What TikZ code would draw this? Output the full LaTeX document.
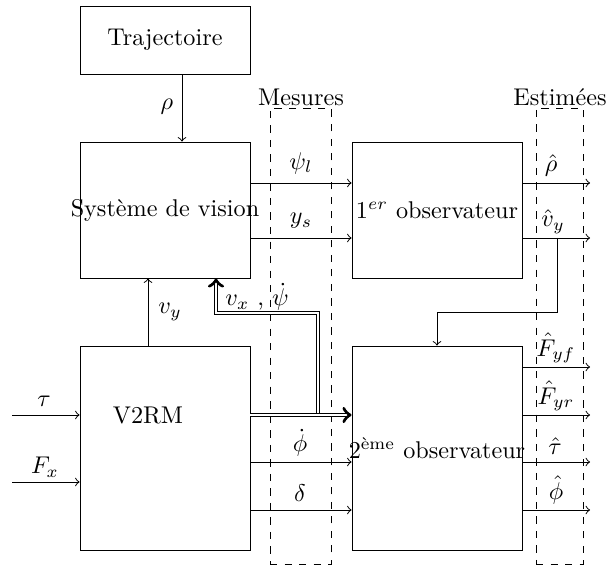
\documentclass[tikz,border=0pt]{standalone}
\usepackage{fontspec}
\usetikzlibrary{calc}
\def\px{0.4132pt}
\begin{document}
\begin{tikzpicture}[x=0.4132pt,y=-0.4132pt,
  blk/.style={draw, rectangle, inner sep=0pt, minimum width={170*\px}},
  dbox/.style={draw, dashed, rectangle, inner sep=0pt},
  lbl/.style={inner sep=1pt},
  sig/.style={->},
  dsig/.style={double, ->}]
\useasboundingbox (0,0) rectangle (607,565);
% blocks
\node[blk, minimum height={68*\px}] (traj) at (165,40) {Trajectoire};
\node[blk, minimum height={136*\px}] (sys) at (165,210) {};
\node[lbl] (systxt) at (sys.center) {Système de vision};
\node[blk, minimum height={136*\px}] (obs1) at (437,210) {};
\node[lbl] (obs1txt) at (obs1.center) {$1^{er}$ observateur};
\node[blk, minimum height={204*\px}] (v2rm) at (165,448) {};
\node[lbl] (v2rmtxt) at (148,415) {V2RM};
\node[blk, minimum height={204*\px}] (obs2) at (437,448) {};
\node[lbl] (obs2txt) at (obs2.center) {2\textsuperscript{ème} observateur};
% dashed groups
\node[dbox, minimum width={61*\px}, minimum height={456*\px}] (mes) at (300.5,336) {};
\node[lbl] (mestxt) at (301,97) {Mesures};
\node[dbox, minimum width={47*\px}, minimum height={456*\px}] (est) at (559.5,336) {};
\node[lbl] (esttxt) at (560,97) {Estimées};
% helper coordinates
\coordinate (ra) at (0,183);
\coordinate (rb) at (0,238);
\coordinate (rv) at (0,312);
\coordinate (by) at (0,313);
\coordinate (r1) at (0,367);
\coordinate (rt) at (0,415);
\coordinate (rp) at (0,462);
\coordinate (rf) at (0,482);
\coordinate (rd) at (0,510);
\coordinate (xe) at (590,0);
\coordinate (xl) at (12,0);
\coordinate (vb) at (557,0);
\coordinate (bx) at (318,0);
\coordinate (sx) at ($(sys.south)+(51,0)$);
% connectors
\draw[sig] ($(traj.south)+(17,0)$) -- ($(sys.north)+(17,0)$);
\draw[sig] (sys.east |- ra) -- (obs1.west |- ra);
\draw[sig] (sys.east |- rb) -- (obs1.west |- rb);
\draw[sig] (obs1.east |- ra) -- (xe |- ra);
\draw[sig] (obs1.east |- rb) -- (xe |- rb);
\draw[sig] (vb |- rb) |- (obs2.north |- rv) -- (obs2.north);
\draw[sig] ($(v2rm.north)+(-17,0)$) -- ($(sys.south)+(-17,0)$);
\draw[dsig] (bx |- rt) |- (sx |- by) -- (sx);
\draw[dsig] (v2rm.east |- rt) -- (obs2.west |- rt);
\draw[sig] (xl |- rt) -- (v2rm.west |- rt);
\draw[sig] (xl |- rf) -- (v2rm.west |- rf);
\draw[sig] (v2rm.east |- rp) -- (obs2.west |- rp);
\draw[sig] (v2rm.east |- rd) -- (obs2.west |- rd);
\draw[sig] (obs2.east |- r1) -- (xe |- r1);
\draw[sig] (obs2.east |- rt) -- (xe |- rt);
\draw[sig] (obs2.east |- rp) -- (xe |- rp);
\draw[sig] (obs2.east |- rd) -- (xe |- rd);
% labels
\node[lbl] (lrho) at (167,107) {$\rho$};
\node[lbl] (lpsi) at (301,163) {$\psi_l$};
\node[lbl] (lys) at (301,221) {$y_s$};
\node[lbl] (lrhoh) at (551,165) {$\hat{\rho}$};
\node[lbl] (lvyh) at (553,222) {$\hat{v}_y$};
\node[lbl] (lvy) at (170,312) {$v_y$};
\node[lbl] (lvx) at (257,297) {$v_x$ , $\dot{\psi}$};
\node[lbl] (ltau) at (44,401) {$\tau$};
\node[lbl] (lfx) at (45,467) {$F_x$};
\node[lbl] (lphid) at (300,443) {$\dot{\phi}$};
\node[lbl] (ldelta) at (300,493) {$\delta$};
\node[lbl] (lfyf) at (556,348) {$\hat{F}_{yf}$};
\node[lbl] (lfyr) at (556,396) {$\hat{F}_{yr}$};
\node[lbl] (ltauh) at (555,446) {$\hat{\tau}$};
\node[lbl] (lphih) at (556,490) {$\hat{\phi}$};
\end{tikzpicture}
\end{document}
